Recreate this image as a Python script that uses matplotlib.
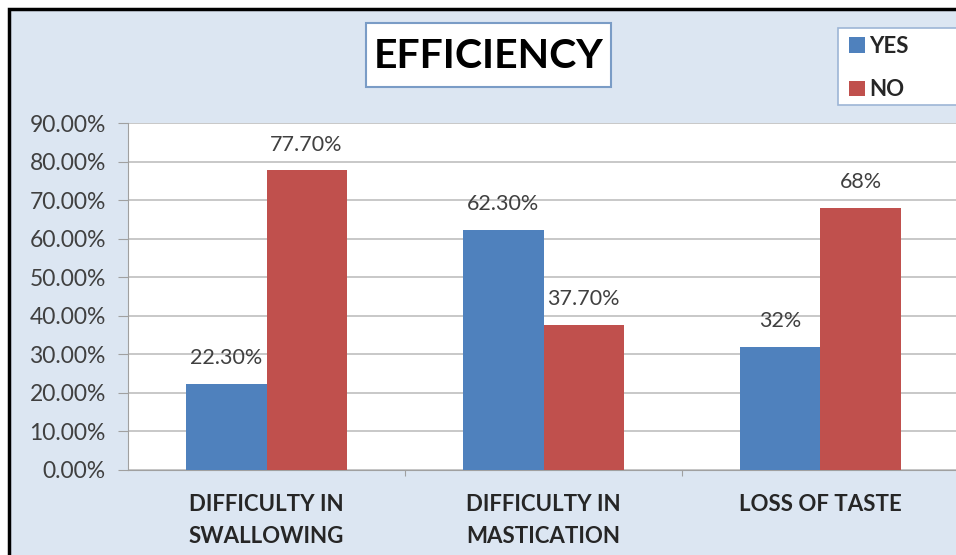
import matplotlib
matplotlib.use("Agg")
import matplotlib.pyplot as plt
from matplotlib.patches import Rectangle
import numpy as np

categories = ["DIFFICULTY IN\nSWALLOWING", "DIFFICULTY IN\nMASTICATION", "LOSS OF TASTE"]
yes_values = [22.3, 62.3, 32.0]
no_values = [77.7, 37.7, 68.0]
yes_labels = ["22.30%", "62.30%", "32%"]
no_labels = ["77.70%", "37.70%", "68%"]
yticks = [0, 10, 20, 30, 40, 50, 60, 70, 80, 90]
ytick_labels = ["%.2f%%" % v for v in yticks]

W, H = 956, 555
plt.rcParams['font.family'] = ['Lato', 'DejaVu Sans']
fig = plt.figure(figsize=(W / 100, H / 100), dpi=100)
fig.patch.set_facecolor("white")

bg = "#dce6f2"
fig.patches.append(Rectangle((9 / W, -0.2), 1.2, 1 - 9 / H + 0.2, transform=fig.transFigure,
                             facecolor=bg, edgecolor="black", linewidth=2.5, zorder=-10))

left_px, right_px, top_px, bot_px = 128, 959, 123, 470
ax = fig.add_axes([left_px / W, 1 - bot_px / H, (right_px - left_px) / W, (bot_px - top_px) / H])
ax.set_facecolor("white")

x = np.arange(len(categories))
bw = 0.289
blue, red = "#4f81bd", "#c0504d"
ax.bar(x - bw / 2, yes_values, bw, color=blue, zorder=3, label="YES")
ax.bar(x + bw / 2, no_values, bw, color=red, zorder=3, label="NO")

for xi, v, lab in zip(x - bw / 2, yes_values, yes_labels):
    ax.text(xi, v + 6.7, lab, ha="center", va="center", fontsize=15.5, color="#404040", zorder=4)
for xi, v, lab in zip(x + bw / 2, no_values, no_labels):
    ax.text(xi, v + 6.7, lab, ha="center", va="center", fontsize=15.5, color="#404040", zorder=4)

ax.set_xlim(-0.5, 2.5)
ax.set_ylim(0, 90)
ax.set_yticks(yticks)
ax.set_yticklabels(ytick_labels, fontsize=16.5, color="#404040")
ax.yaxis.grid(True, color="#bfbfbf", linewidth=1.2, zorder=0)
ax.set_axisbelow(True)
ax.tick_params(axis="y", length=7, color="#a0a0a0", pad=9)

ax.set_xticks([0.5, 1.5], minor=False)
ax.set_xticklabels([])
ax.tick_params(axis="x", length=4, color="#a0a0a0", direction="out")
for xi, c in zip(x, categories):
    ax.text(xi, -6.2, c, ha="center", va="top", fontsize=16, fontweight="bold",
            color="#262626", linespacing=1.65, transform=ax.transData, clip_on=False)

for s in ["top", "right"]:
    ax.spines[s].set_visible(False)
ax.spines["left"].set_color("#a0a0a0")
ax.spines["bottom"].set_color("#a0a0a0")

# title box
fig.patches.append(Rectangle((366 / W, 1 - 87 / H), 245 / W, 64 / H, transform=fig.transFigure,
                             facecolor="white", edgecolor="#7a9cc6", linewidth=1.5, zorder=5))
fig.text(489 / W, 1 - 56 / H, "EFFICIENCY", ha="center", va="center", fontsize=29.5,
         fontweight="bold", color="black", zorder=6)

# legend box
fig.patches.append(Rectangle((838 / W, 1 - 105 / H), 140 / W, 77 / H, transform=fig.transFigure,
                             facecolor="white", edgecolor="#9db5d6", linewidth=1.2, zorder=5))
leg = fig.legend(loc="center left", bbox_to_anchor=(838 / W, 1 - 68 / H), frameon=False,
                 fontsize=16, handlelength=0.7, handleheight=0.7, handletextpad=0.2,
                 borderpad=0.0, labelspacing=1.0)
leg.set_zorder(6)
for t in leg.get_texts():
    t.set_fontweight("bold")
    t.set_color("#262626")

fig.savefig("out.png", dpi=100)
